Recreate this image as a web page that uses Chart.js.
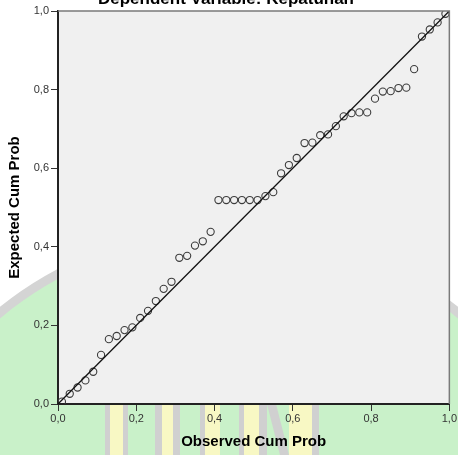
<!DOCTYPE html>
<html><head><meta charset="utf-8">
<script src="https://cdn.jsdelivr.net/npm/chart.js@4/dist/chart.umd.min.js"></script>
<style>html,body{margin:0;padding:0;background:#fff;overflow:hidden}#wrap{position:relative;width:458px;height:455px}canvas{display:block}</style>
</head><body><div id="wrap"><canvas id="c" width="458" height="455"></canvas></div>
<script>
const chartTitle = 'Dependent Variable: Kepatuhan';
const xAxisTitle = 'Observed Cum Prob';
const yAxisTitle = 'Expected Cum Prob';
const tickValues = [0.0, 0.2, 0.4, 0.6, 0.8, 1.0];
const observedCumProb = [0.01,0.03,0.05,0.07,0.09,0.11,0.13,0.15,0.17,0.19,
  0.21,0.23,0.25,0.27,0.29,0.31,0.33,0.35,0.37,0.39,
  0.41,0.43,0.45,0.47,0.49,0.51,0.53,0.55,0.57,0.59,
  0.61,0.63,0.65,0.67,0.69,0.71,0.73,0.75,0.77,0.79,
  0.81,0.83,0.85,0.87,0.89,0.91,0.93,0.95,0.97,0.99];
const expectedCumProb = [0.006,0.026,0.042,0.060,0.082,0.125,0.165,0.173,0.188,0.195,
  0.219,0.237,0.262,0.293,0.311,0.372,0.377,0.403,0.414,0.438,
  0.519,0.519,0.519,0.519,0.519,0.519,0.529,0.539,0.587,0.608,
  0.626,0.664,0.665,0.684,0.686,0.707,0.732,0.740,0.742,0.742,
  0.777,0.795,0.796,0.804,0.805,0.852,0.935,0.953,0.971,0.993];
const refLineX = [0, 1];
const refLineY = [0, 1];

const FONT = '"Liberation Sans", Arial, sans-serif';

const bgPlugin = {
  id: 'bg',
  beforeDraw(chart) {
    const ctx = chart.ctx, a = chart.chartArea;
    ctx.save();
    ctx.fillStyle = '#ffffff';
    ctx.fillRect(0, 0, chart.width, chart.height);
    // faint watermark
    ctx.beginPath();
    ctx.arc(229, 593, 362, 0, Math.PI * 2);
    ctx.fillStyle = '#c9f1c9';
    ctx.fill();
    ctx.lineWidth = 9;
    ctx.strokeStyle = '#d4d4d4';
    ctx.stroke();
    const greys = [[105,110],[123,128],[155,162],[173,180],[200,205],[239,244],[259,267],[312,319]];
    const yellows = [[110,123],[162,173],[205,220],[244,259],[289,312]];
    ctx.fillStyle = '#d0d0d0';
    greys.forEach(g => ctx.fillRect(g[0], a.bottom, g[1]-g[0], chart.height - a.bottom));
    ctx.beginPath();
    ctx.moveTo(267, a.bottom); ctx.lineTo(276, a.bottom); ctx.lineTo(289, chart.height); ctx.lineTo(280, chart.height); ctx.closePath();
    ctx.fill();
    ctx.fillStyle = '#f8f8c4';
    yellows.forEach(g => ctx.fillRect(g[0], a.bottom, g[1]-g[0], chart.height - a.bottom));
    // plot background
    ctx.fillStyle = '#f0f0f0';
    ctx.fillRect(a.left, a.top, a.right - a.left, a.bottom - a.top);
    ctx.restore();
  },
  afterDraw(chart) {
    const ctx = chart.ctx, a = chart.chartArea;
    ctx.save();
    ctx.strokeStyle = '#7a7a7a';
    ctx.lineWidth = 1.5;
    ctx.beginPath();
    ctx.moveTo(a.left, a.top); ctx.lineTo(a.right, a.top); ctx.lineTo(a.right, a.bottom);
    ctx.stroke();
    ctx.fillStyle = '#000';
    ctx.font = 'bold 17px ' + FONT;
    ctx.textAlign = 'center';
    ctx.textBaseline = 'alphabetic';
    ctx.fillText(chartTitle, 226, 3.5);
    ctx.restore();
  }
};

const fmt = v => Number(v).toFixed(1).replace('.', ',');

new Chart(document.getElementById('c'), {
  type: 'scatter',
  data: {
    datasets: [
      {
        label: 'ref',
        data: refLineX.map((x, i) => ({x, y: refLineY[i]})),
        showLine: true,
        borderColor: '#111',
        borderWidth: 1.3,
        pointRadius: 0,
        fill: false
      },
      {
        label: 'points',
        data: observedCumProb.map((x, i) => ({x, y: expectedCumProb[i]})),
        showLine: false,
        pointStyle: 'circle',
        pointRadius: 3.6,
        pointBorderColor: '#3c3c3c',
        pointBorderWidth: 1.1,
        pointBackgroundColor: 'rgba(0,0,0,0)'
      }
    ]
  },
  options: {
    responsive: false,
    animation: false,
    devicePixelRatio: 1,
    layout: { padding: { top: 11, right: 6, left: 0, bottom: 0 } },
    plugins: { legend: { display: false }, tooltip: { enabled: false }, title: { display: false } },
    scales: {
      x: {
        type: 'linear', min: 0, max: 1,
        afterBuildTicks: s => { s.ticks = tickValues.map(v => ({value: v})); },
        afterFit: s => { s.height = 51; },
        grid: { display: true, drawOnChartArea: false, drawTicks: true, tickLength: 7, color: '#333', lineWidth: 1 },
        border: { display: true, color: '#222', width: 2 },
        ticks: { callback: v => fmt(v), color: '#333', padding: 1, font: { family: FONT, size: 11 }, maxRotation: 0 },
        title: { display: true, text: xAxisTitle, color: '#000', font: { family: FONT, size: 15, weight: 'bold' }, padding: { top: 0, bottom: 4 } }
      },
      y: {
        type: 'linear', min: 0, max: 1,
        afterBuildTicks: s => { s.ticks = tickValues.map(v => ({value: v})); },
        afterFit: s => { s.width = 58; },
        grid: { display: true, drawOnChartArea: false, drawTicks: true, tickLength: 7, color: '#333', lineWidth: 1 },
        border: { display: true, color: '#222', width: 2 },
        ticks: { callback: v => fmt(v), color: '#333', padding: 2, font: { family: FONT, size: 11 } },
        title: { display: true, text: yAxisTitle, color: '#000', font: { family: FONT, size: 15, weight: 'bold' }, padding: { top: 6, bottom: 0 } }
      }
    }
  },
  plugins: [bgPlugin]
});
</script>
</body></html>
